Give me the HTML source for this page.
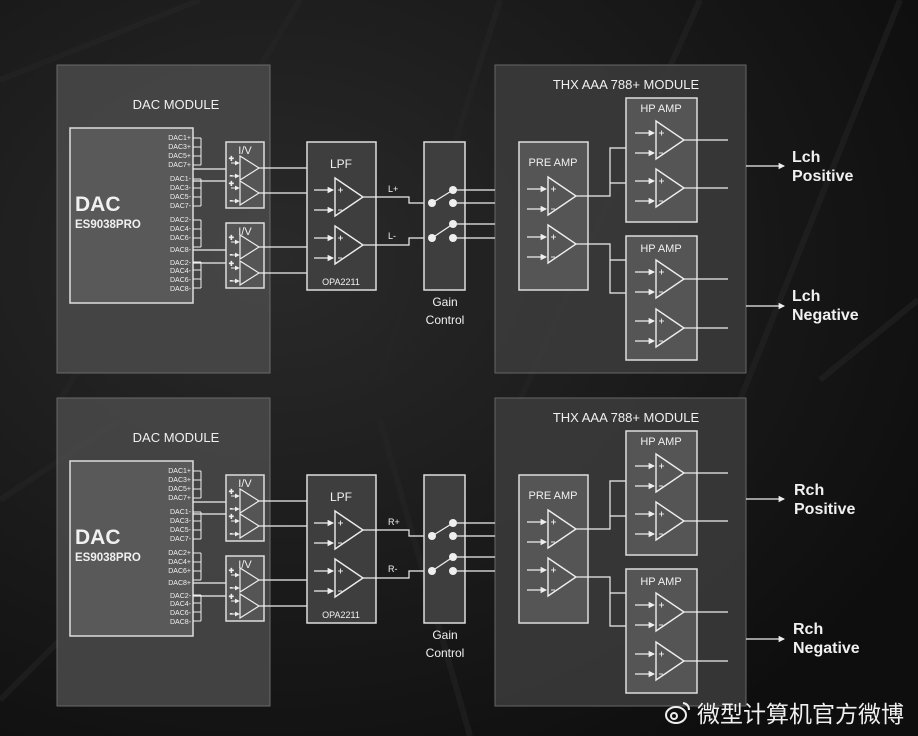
<!DOCTYPE html>
<html><head><meta charset="utf-8"><style>
html,body{margin:0;padding:0;background:#141414;}
svg{display:block}
text{font-family:"Liberation Sans","Noto Sans CJK SC",sans-serif;fill:#f0f0f0}
</style></head><body>
<svg width="918" height="736" viewBox="0 0 918 736" xmlns="http://www.w3.org/2000/svg">
<defs>
<radialGradient id="bg" cx="0.3" cy="0.35" r="0.8">
<stop offset="0" stop-color="#2a2a2a"/><stop offset="1" stop-color="#0e0e0e"/>
</radialGradient>
<marker id="ar" viewBox="0 0 6 6" refX="5" refY="3" markerWidth="5" markerHeight="5" orient="auto"><path d="M0,0 L6,3 L0,6z" fill="#eee"/></marker>
<g id="oa">
<polygon points="0,-19 0,19 28,0" fill="none" stroke="#eee" stroke-width="1.4"/>
<line x1="-21" y1="-7" x2="-2" y2="-7" stroke="#eee" stroke-width="1.3" marker-end="url(#ar)"/>
<line x1="-21" y1="13" x2="-2" y2="13" stroke="#eee" stroke-width="1.3" marker-end="url(#ar)"/>
<line x1="3" y1="-7" x2="8" y2="-7" stroke="#eee" stroke-width="0.9"/>
<line x1="5.5" y1="-9.5" x2="5.5" y2="-4.5" stroke="#eee" stroke-width="0.9"/>
<line x1="3" y1="13" x2="7" y2="13" stroke="#eee" stroke-width="0.9"/>
</g>
<g id="iva">
<polygon points="0,-12 0,12 19,0" fill="none" stroke="#eee" stroke-width="1.2"/>
<line x1="-9" y1="-5" x2="-1" y2="-5" stroke="#eee" stroke-width="1" marker-end="url(#ar)"/>
<line x1="-9" y1="8" x2="-1" y2="8" stroke="#eee" stroke-width="1" marker-end="url(#ar)"/>
<text x="-11" y="-7" font-size="8">+</text>
<text x="-10" y="10" font-size="7">-</text>
</g>
<g id="half" stroke="#eee" fill="none">
<rect x="57" y="65" width="213" height="308" fill="#4a4a4a" fill-opacity="0.85" stroke="#6a6a6a" stroke-width="1"/>
<rect x="495" y="65" width="251" height="308" fill="#3c3c3c" fill-opacity="0.85" stroke="#666" stroke-width="1"/>
<rect x="70" y="128" width="123" height="175" fill="#595959" stroke="#ddd" stroke-width="1.5"/>
<g stroke-width="1">
<path d="M193,138H201M193,147H201M193,156H201M193,165H201M201,138V165"/>
<path d="M193,179H201M193,188H201M193,197H201M193,206H201M201,179V206"/>
<path d="M193,220H201M193,229H201M193,238H201M193,247H201M201,220V247"/>
<path d="M193,262H201M193,270H201M193,279H201M193,288H201M201,262V288"/>
</g>
<path d="M193,169H226M193,181H226M193,250H226M193,263H226" stroke-width="1.2"/>
<rect x="226" y="142" width="38" height="66" fill="#555" stroke="#ddd" stroke-width="1.5"/>
<rect x="226" y="223" width="38" height="65" fill="#555" stroke="#ddd" stroke-width="1.5"/>
<use href="#iva" x="240" y="168"/><use href="#iva" x="240" y="193"/>
<use href="#iva" x="240" y="247"/><use href="#iva" x="240" y="273"/>
<path d="M259,168H307M259,193H307M259,247H307M259,273H307" stroke-width="1.2"/>
<rect x="307" y="142" width="69" height="148" fill="#3e3e3e" stroke="#ddd" stroke-width="1.5"/>
<use href="#oa" x="335" y="197"/><use href="#oa" x="335" y="245"/>
<path d="M363,197H409V203H432M363,245H409V238H432" stroke-width="1.2"/>
<rect x="424" y="142" width="41" height="148" fill="#3e3e3e" stroke="#ddd" stroke-width="1.5"/>
<path d="M432,203L453,190M432,238L453,224" stroke-width="1.3"/>
<g fill="#eee" stroke="none">
<circle cx="432" cy="203" r="4"/><circle cx="453" cy="190" r="4"/><circle cx="453" cy="203" r="4"/>
<circle cx="432" cy="238" r="4"/><circle cx="453" cy="224" r="4"/><circle cx="453" cy="238" r="4"/>
</g>
<path d="M453,190H495M453,203H495M453,224H495M453,238H495" stroke-width="1.2"/>
<rect x="519" y="142" width="69" height="148" fill="#555" stroke="#ddd" stroke-width="1.5"/>
<use href="#oa" x="548" y="196"/><use href="#oa" x="548" y="244"/>
<path d="M576,196H610V148H626M610,183H626M576,244H610V293H626M610,260H626" stroke-width="1.2"/>
<rect x="626" y="98" width="71" height="124" fill="#555" stroke="#ddd" stroke-width="1.5"/>
<rect x="626" y="236" width="71" height="124" fill="#555" stroke="#ddd" stroke-width="1.5"/>
<use href="#oa" x="656" y="140"/><use href="#oa" x="656" y="188"/>
<use href="#oa" x="656" y="279"/><use href="#oa" x="656" y="328"/>
<path d="M684,140H728M684,188H728M684,279H728M684,328H728" stroke-width="1.2"/>
<line x1="746" y1="166" x2="784" y2="166" stroke-width="1.3" marker-end="url(#ar)"/>
<line x1="746" y1="306" x2="784" y2="306" stroke-width="1.3" marker-end="url(#ar)"/>
</g>
</defs>
<rect width="918" height="736" fill="url(#bg)"/>
<g stroke="#262626" stroke-width="6" fill="none" opacity="0.5">
<path d="M0,80 L200,0 M300,0 L60,400 M500,0 L380,380 M700,0 L520,400 M900,0 L740,400 M820,380 L918,300 M0,500 L120,420 M380,420 L470,736 M0,700 L60,640"/>
</g>
<use href="#half"/>
<use href="#half" y="333"/>
<g font-size="13" text-anchor="middle">
<text x="176" y="109">DAC MODULE</text><text x="176" y="442">DAC MODULE</text>
<text x="626" y="89">THX AAA 788+ MODULE</text><text x="626" y="422">THX AAA 788+ MODULE</text>
<text x="341" y="168" font-size="12">LPF</text><text x="341" y="501" font-size="12">LPF</text>
<text x="341" y="285" font-size="9">OPA2211</text><text x="341" y="618" font-size="9">OPA2211</text>
<text x="445" y="306" font-size="12">Gain</text><text x="445" y="324" font-size="12">Control</text>
<text x="445" y="639" font-size="12">Gain</text><text x="445" y="657" font-size="12">Control</text>
<text x="245" y="154" font-size="11">I/V</text><text x="245" y="235" font-size="11">I/V</text>
<text x="245" y="487" font-size="11">I/V</text><text x="245" y="568" font-size="11">I/V</text>
<text x="553" y="166" font-size="11">PRE  AMP</text><text x="553" y="499" font-size="11">PRE  AMP</text>
<text x="661" y="112" font-size="11">HP  AMP</text><text x="661" y="252" font-size="11">HP  AMP</text>
<text x="661" y="445" font-size="11">HP  AMP</text><text x="661" y="585" font-size="11">HP  AMP</text>
</g>
<g font-size="9">
<text x="388" y="192">L+</text><text x="388" y="239">L-</text>
<text x="388" y="525">R+</text><text x="388" y="572">R-</text>
</g>
<g font-weight="bold">
<text x="75" y="211" font-size="21">DAC</text><text x="75" y="228" font-size="11.5">ES9038PRO</text>
<text x="75" y="544" font-size="21">DAC</text><text x="75" y="561" font-size="11.5">ES9038PRO</text>
<text x="792" y="162" font-size="16">Lch</text><text x="792" y="181" font-size="16">Positive</text>
<text x="792" y="301" font-size="16">Lch</text><text x="792" y="320" font-size="16">Negative</text>
<text x="794" y="495" font-size="16">Rch</text><text x="794" y="514" font-size="16">Positive</text>
<text x="793" y="634" font-size="16">Rch</text><text x="793" y="653" font-size="16">Negative</text>
</g>
<g font-size="7" text-anchor="end">
<text x="191" y="140">DAC1+</text><text x="191" y="149">DAC3+</text><text x="191" y="158">DAC5+</text><text x="191" y="167">DAC7+</text>
<text x="191" y="181">DAC1-</text><text x="191" y="190">DAC3-</text><text x="191" y="199">DAC5-</text><text x="191" y="208">DAC7-</text>
<text x="191" y="222">DAC2-</text><text x="191" y="231">DAC4-</text><text x="191" y="240">DAC6-</text><text x="191" y="252">DAC8-</text>
<text x="191" y="265">DAC2-</text><text x="191" y="273">DAC4-</text><text x="191" y="282">DAC6-</text><text x="191" y="291">DAC8-</text>
<text x="191" y="473">DAC1+</text><text x="191" y="482">DAC3+</text><text x="191" y="491">DAC5+</text><text x="191" y="500">DAC7+</text>
<text x="191" y="514">DAC1-</text><text x="191" y="523">DAC3-</text><text x="191" y="532">DAC5-</text><text x="191" y="541">DAC7-</text>
<text x="191" y="555">DAC2+</text><text x="191" y="564">DAC4+</text><text x="191" y="573">DAC6+</text><text x="191" y="585">DAC8+</text>
<text x="191" y="598">DAC2-</text><text x="191" y="606">DAC4-</text><text x="191" y="615">DAC6-</text><text x="191" y="624">DAC8-</text>
</g>
<g fill="none" stroke="#eee" stroke-width="2">
<ellipse cx="676" cy="715" rx="10" ry="8"/><circle cx="674" cy="716" r="3"/>
<path d="M683,703 q6,1 6,7"/>
</g>
<text x="697" y="722" font-size="23" fill="#eee">微型计算机官方微博</text>
</svg>
</body></html>
